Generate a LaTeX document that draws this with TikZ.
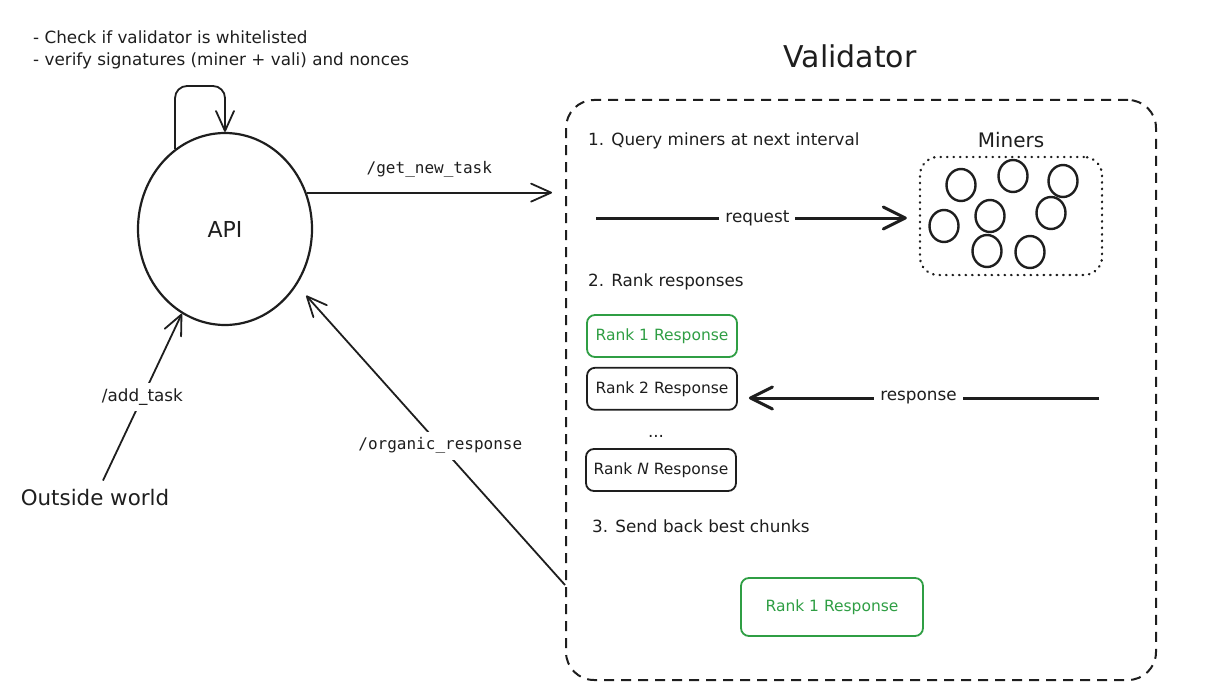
\documentclass[tikz,border=0pt]{standalone}
\usepackage{fontspec}
\setmainfont{DejaVu Sans}
\setmonofont{DejaVu Sans Mono}
\usetikzlibrary{arrows.meta}
\usetikzlibrary{positioning}
\usetikzlibrary{shapes.geometric}
\definecolor{ink}{HTML}{1E1E1E}
\definecolor{okgreen}{HTML}{2F9E44}
\tikzset{arr/.style = {-{Straight Barb[length = 20pt, width = 18pt, round]}, line width = 1.8pt}}
\tikzset{boldarr/.style = {-{Straight Barb[length = 22pt, width = 22pt, round]}, line width = 3pt}}
\tikzset{txt/.style = {font = \fontsize{16.8pt}{20pt}\selectfont, inner sep = 0}}
\tikzset{lbl/.style = {txt, fill = white, inner sep = 6pt}}
\tikzset{code/.style = {font = \ttfamily\fontsize{16pt}{19pt}\selectfont, fill = white, inner sep = 6pt}}
\tikzset{rankbox/.style = {draw, line width = 1.8pt, rounded corners = 8pt, minimum width = 150pt,
                           minimum height = 42pt, font = \fontsize{15.5pt}{18pt}\selectfont}}
\tikzset{miner/.style = {draw, ellipse, line width = 2.4pt, minimum width = 29pt, minimum height = 32pt, inner sep = 0}}

\begin{document}
\begin{tikzpicture}[x = 1pt, y = -1pt, ink]
  \useasboundingbox (0, 0) rectangle (1206, 695);
  % API side
  \node [txt, anchor = west] (check) at (33, 37) {- Check if validator is whitelisted};
  \node [txt, anchor = west] (verify) at (33, 61) {- verify signatures (miner + vali) and nonces};
  \node [draw, ellipse, line width = 2.2pt, minimum width = 174pt, minimum height = 192pt,
         font = \fontsize{22pt}{26pt}\selectfont] (api) at (225, 229) {API};
  \coordinate (looptop) at (200, 86);
  \draw [arr, rounded corners = 12pt] (api.122) |- (looptop) -| (api.north);
  \node [txt, font = \fontsize{21.4pt}{26pt}\selectfont] (world) at (95, 498) {Outside world};
  \draw [arr] ([xshift = 8pt, yshift = 9pt]world.north) -- (api.-117) node [lbl, pos = 0.5] {/add\_task};
  \coordinate (taskend) at (552, 192);
  \draw [arr] (api.24) -- (api.24 -| taskend) node [code, midway, above = 8pt] {/get\_new\_task};
  \coordinate (organic) at (565, 585);
  \draw [arr, shorten > = 14pt] (organic) -- (api.-38) node [code, pos = 0.465] {/organic\_response};

  % validator
  \node [draw, line width = 2pt, dash pattern = on 10pt off 7pt, rounded corners = 28pt,
         minimum width = 590pt, minimum height = 580pt] (vali) at (861, 390) {};
  \node [txt, font = \fontsize{30pt}{36pt}\selectfont] (valititle) at (850, 56) {Validator};
  \node [txt, anchor = west] (query) at (588, 141) {1. Query miners at next interval};
  \node [draw, line width = 2.4pt, dash pattern = on 0.5pt off 6pt, line cap = round, rounded corners = 18pt,
         minimum width = 182pt, minimum height = 118pt] (pool) at (1011, 216) {};
  \node [txt, font = \fontsize{20pt}{24pt}\selectfont, above = 8pt of pool] (minerstitle) {Miners};
  \foreach \name/\x/\y in {m1/961/185, m2/1013/176, m3/1063/181, m4/944/226,
                           m5/990/216, m6/1051/213, m7/987/251, m8/1030/252}
    \node [miner] (\name) at (\x, \y) {};
  \coordinate (reqstart) at (596, 218);
  \draw [boldarr, shorten > = 12pt] (reqstart) -- (reqstart -| pool.west) node [lbl, midway] {request};

  \node [txt, anchor = west] (rankhead) at (588, 282) {2. Rank responses};
  \node [rankbox, okgreen] (rank1) at (662, 336) {Rank 1 Response};
  \node [rankbox, below = 9pt of rank1] (rank2) {Rank 2 Response};
  \node [txt] (dots) at (656, 436) {...};
  \node [rankbox] (rankn) at (661, 470) {Rank \textit{N} Response};
  \coordinate (respstart) at (1099, 398);
  \draw [boldarr, shorten > = 11pt] (respstart) -- (respstart -| rank2.east) node [lbl, midway] {response};

  \node [txt, anchor = west] (sendhead) at (592, 526) {3. Send back best chunks};
  \node [rankbox, okgreen, minimum width = 182pt, minimum height = 58pt] (best) at (832, 607) {Rank 1 Response};
\end{tikzpicture}
\end{document}
